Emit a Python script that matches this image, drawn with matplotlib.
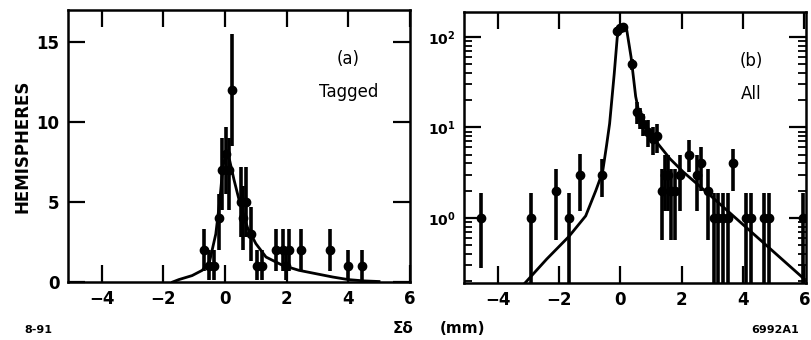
import numpy as np
import matplotlib
matplotlib.use("Agg")
import matplotlib.pyplot as plt
from matplotlib.ticker import LogLocator, NullFormatter

# (a) Tagged hemispheres
tag_x = [-0.68, -0.52, -0.36, -0.20, -0.09, 0.02, 0.13, 0.24, 0.51, 0.57, 0.67,
         0.84, 1.05, 1.20, 1.65, 1.87, 1.98, 2.08, 2.47, 3.42, 4.00, 4.44]
tag_y = [2, 1, 1, 4, 7, 8, 7, 12, 5, 4, 5, 3, 1, 1, 2, 2, 1, 2, 2, 2, 1, 1]
tag_lo = [0.7, 0.1, 0.1, 2.0, 4.5, 5.5, 4.5, 8.5, 2.8, 2.0, 2.8, 1.3, 0.1, 0.1,
          0.7, 0.7, 0.1, 0.7, 0.7, 0.7, 0.1, 0.1]
tag_hi = [3.3, 2.0, 2.0, 5.5, 9.0, 9.7, 9.0, 15.5, 7.2, 6.0, 7.2, 4.7, 2.0, 2.0,
          3.3, 3.3, 2.0, 3.3, 3.3, 3.3, 2.0, 2.0]
tag_fit_x = [-1.7, -1.5, -1.07, -0.74, -0.5, -0.3, -0.17, -0.07, 0.05, 0.15,
             0.29, 0.46, 0.73, 1.0, 1.33, 1.87, 2.4, 3.0, 3.5, 4.0, 4.5, 5.0]
tag_fit_y = [0.0, 0.15, 0.4, 0.73, 1.3, 3.0, 5.1, 7.2, 8.2, 7.6, 6.4, 5.1, 3.4,
             2.4, 1.56, 1.04, 0.73, 0.5, 0.31, 0.15, 0.07, 0.03]

# (b) All hemispheres
all_x = [-4.54, -2.91, -2.10, -1.66, -1.30, -0.60, -0.10, 0.00, 0.10, 0.37,
         0.55, 0.65, 0.75, 0.90, 1.07, 1.20, 1.37, 1.45, 1.55, 1.65, 1.78, 1.93,
         2.25, 2.50, 2.63, 2.85, 3.05, 3.20, 3.35, 3.50, 3.69, 4.10, 4.25, 4.70,
         4.85, 5.96]
all_y = [1, 1, 2, 1, 3, 3, 118, 125, 130, 50, 15, 13, 11, 9, 7.5, 8, 2, 3, 3,
         2, 2, 3, 5, 3, 4, 2, 1, 1, 1, 1, 4, 1, 1, 1, 1, 1]
all_lo = [0.28, 0.05, 0.57, 0.05, 1.2, 1.7, 107, 114, 119, 43, 11, 9.5, 8, 6,
          5, 5.2, 0.57, 1.2, 1.2, 0.57, 0.57, 1.2, 3.2, 1.2, 2.0, 0.57, 0.05,
          0.05, 0.05, 0.05, 2.0, 0.05, 0.05, 0.05, 0.05, 0.05]
all_hi = [1.9, 1.9, 3.5, 1.9, 5.1, 4.5, 129, 136, 141, 57, 19, 16.5, 14, 12,
          10, 10.8, 3.5, 5.0, 5.0, 3.5, 3.5, 5.0, 7.2, 5.0, 6.0, 3.5, 1.9, 1.9,
          1.9, 1.9, 5.8, 1.9, 1.9, 1.9, 1.9, 1.9]
all_fit_x = [-3.11, -2.4, -1.68, -1.13, -0.80, -0.58, -0.45, -0.35, -0.2, -0.1,
             0.05, 0.2, 0.35, 0.5, 0.6, 0.85, 1.18, 1.62, 2.06, 2.83, 3.71,
             4.81, 6.0]
all_fit_y = [0.19, 0.35, 0.62, 1.05, 2.0, 3.2, 6.3, 11, 39, 100, 135, 125, 60,
             22, 15, 9.7, 6.9, 4.5, 3.2, 1.9, 1.03, 0.48, 0.21]

bin_half = 0.06

fig = plt.figure(figsize=(8.12, 3.40), dpi=100)
ax1 = fig.add_axes([0.0837, 0.1706, 0.421, 0.80])
ax2 = fig.add_axes([0.5714, 0.1676, 0.421, 0.797])

ebkw = dict(fmt="o", color="black", ms=6, elinewidth=2.6, capsize=0)

# panel (a)
ax1.plot(tag_fit_x, tag_fit_y, color="black", lw=2)
ax1.errorbar(tag_x, tag_y,
             yerr=[np.subtract(tag_y, tag_lo), np.subtract(tag_hi, tag_y)],
             xerr=bin_half, **ebkw)
ax1.set_xlim(-5.1, 6.0)
ax1.set_ylim(0, 17)
ax1.set_xticks([-4, -2, 0, 2, 4, 6])
ax1.set_yticks([0, 5, 10, 15])
ax1.set_ylabel("HEMISPHERES", fontsize=12, fontweight="bold", labelpad=4)
ax1.text(0.82, 0.80, "(a)", transform=ax1.transAxes, fontsize=12, ha="center")
ax1.text(0.82, 0.68, "Tagged", transform=ax1.transAxes, fontsize=12, ha="center")

# panel (b)
ax2.set_yscale("log")
ax2.plot(all_fit_x, all_fit_y, color="black", lw=2)
ax2.errorbar(all_x, all_y,
             yerr=[np.subtract(all_y, all_lo), np.subtract(all_hi, all_y)],
             xerr=bin_half, **ebkw)
ax2.set_xlim(-5.1, 6.05)
ax2.set_ylim(0.19, 189)
ax2.set_xticks([-4, -2, 0, 2, 4, 6])
ax2.yaxis.set_major_locator(LogLocator(base=10, numticks=10))
ax2.yaxis.set_minor_locator(LogLocator(base=10, subs=np.arange(2, 10), numticks=10))
ax2.yaxis.set_minor_formatter(NullFormatter())
ax2.text(0.84, 0.80, "(b)", transform=ax2.transAxes, fontsize=12, ha="center")
ax2.text(0.84, 0.68, "All", transform=ax2.transAxes, fontsize=12, ha="center")

for ax in (ax1, ax2):
    for s in ax.spines.values():
        s.set_linewidth(1.8)
    ax.tick_params(which="major", direction="in", length=12, width=1.6,
                   top=True, right=True, labelsize=12, pad=6)
    ax.tick_params(which="minor", direction="in", length=6, width=1.3,
                   top=False, right=True)
    for lab in ax.get_xticklabels() + ax.get_yticklabels():
        lab.set_fontweight("bold")
ax2.tick_params(axis="y", which="major", labelsize=10)

fig.text(0.03, 0.02, "8-91", fontsize=8, fontweight="bold")
fig.text(0.496, 0.02, "Σδ", fontsize=11, fontweight="bold", ha="center")
fig.text(0.57, 0.02, "(mm)", fontsize=11, fontweight="bold", ha="center")
fig.text(0.955, 0.02, "6992A1", fontsize=8, fontweight="bold", ha="center")

fig.savefig("out.png", dpi=100)
